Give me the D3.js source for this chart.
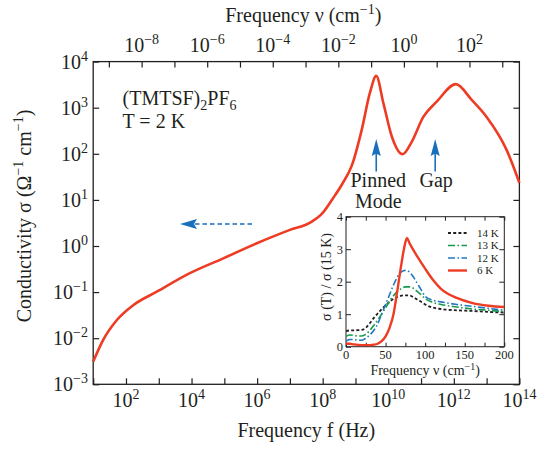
<!DOCTYPE html>
<html><head><meta charset="utf-8">
<script src="https://cdn.jsdelivr.net/npm/d3@7"></script>
<style>
html,body{margin:0;padding:0;background:#fff;}
text{font-family:"Liberation Serif";}
</style></head>
<body>
<svg id="c" width="540" height="449" font-family="Liberation Serif"></svg>
<script>
// ---- main curve (T = 2 K) ----
const freqHz = [10, 20, 52, 166, 870, 8.9e3, 9.3e4, 9.8e5, 1e7, 4.68e7, 1e8, 2.0e8, 3.98e8, 7.76e8, 1.55e9, 2.75e9, 4.3e9, 7.1e9, 1.29e10, 2.75e10, 5.2e10, 1.17e11, 3.0e11, 1.15e12, 3.5e12, 1e13, 4.1e13, 1e14];
const sigma  = [3.1e-3, 9.1e-3, 0.0245, 0.052, 0.102, 0.257, 0.54, 1.15, 2.24, 3.39, 5.25, 10.5, 22.4, 56, 331, 2090, 4900, 1260, 234, 98, 182, 630, 1350, 3240, 1480, 630, 120, 23.4];
const pinnedModeHz = 4.3e9, gapHz = 2.7e11;

// ---- axis ticks ----
const fTicks = [1e1,1e2,1e3,1e4,1e5,1e6,1e7,1e8,1e9,1e10,1e11,1e12,1e13,1e14];
const fLabelExp = [2,4,6,8,10,12,14];
const nuTicks = [1e-9,1e-8,1e-7,1e-6,1e-5,1e-4,1e-3,1e-2,1e-1,1e0,1e1,1e2,1e3];
const nuLabelExp = [-8,-6,-4,-2,0,2];
const sigmaLabelExp = [4,3,2,1,0,-1,-2,-3];

// ---- inset: sigma(T)/sigma(15 K) ----
const nu6K = [0,5,10,20,30,35,40,45,50,55,60,65,70,74,77,80,85,90,100,110,120,140,160,180,200];
const ratio6K = [0.10,0.09,0.07,0.05,0.05,0.06,0.09,0.17,0.32,0.58,1.0,1.75,2.55,3.1,3.35,3.2,2.98,2.78,2.4,2.05,1.78,1.5,1.34,1.26,1.22];
const nuT = [0,5,10,15,20,25,30,35,40,45,50,55,60,65,70,75,80,85,90,95,100,110,120,140,160,180,200];
const ratio12K = [0.17,0.22,0.22,0.2,0.2,0.26,0.36,0.5,0.7,1.0,1.3,1.6,1.9,2.15,2.3,2.35,2.3,2.15,1.95,1.75,1.55,1.43,1.38,1.3,1.24,1.18,1.12];
const ratio13K = [0.32,0.36,0.35,0.33,0.33,0.38,0.5,0.65,0.82,1.0,1.2,1.4,1.57,1.7,1.79,1.84,1.84,1.8,1.7,1.6,1.48,1.36,1.3,1.22,1.16,1.12,1.08];
const ratio14K = [0.48,0.5,0.5,0.51,0.52,0.58,0.72,0.88,1.02,1.15,1.27,1.38,1.47,1.53,1.57,1.58,1.58,1.52,1.45,1.38,1.3,1.2,1.16,1.12,1.1,1.07,1.05];
const legendLabels = ["14 K","13 K","12 K","6 K"];
const insetXTicks = [0,50,100,150,200];
const insetYTicks = [0,1,2,3,4];

const svg = d3.select("#c");
const L = 93.2, R = 519.4, T = 61.6, B = 384.3;
const C_LIGHT = 3e10;
const x = d3.scaleLog().domain([1e1,1e14]).range([L,R]);
const xTop = d3.scaleLog().domain([1e1/C_LIGHT,1e14/C_LIGHT]).range([L,R]);
const y = d3.scaleLog().domain([1e-3,1e4]).range([B,T]);
const RED = "#ee3b24", BLUE = "#1a6fba", GREEN = "#179a4b", BLUE2 = "#1f78c1", INK = "#231f20";

function txt(xp, yp, fs){
  return svg.append("text").attr("x",xp).attr("y",yp).attr("font-size",fs)
    .style("font-family",'"Liberation Serif"').attr("fill",INK);
}
function pow10(sel, base, exp, sfs, dy){
  sel.append("tspan").text(base);
  sel.append("tspan").attr("font-size", sfs).attr("dy", -dy).text(String(exp).replace("-", "\u2212"));
}

// frame
svg.append("rect").attr("x",L).attr("y",T).attr("width",R-L).attr("height",B-T)
  .attr("fill","none").attr("stroke",INK).attr("stroke-width",1.3);

const tk = 6;
const axStyle = g => { g.select(".domain").remove(); g.selectAll("line").attr("stroke",INK).attr("stroke-width",1.2); };
svg.append("g").attr("transform",`translate(0,${B})`).call(d3.axisBottom(x).tickValues(fTicks).tickSize(-tk).tickFormat("")).call(axStyle);
svg.append("g").attr("transform",`translate(0,${T})`).call(d3.axisTop(xTop).tickValues(nuTicks).tickSize(-tk).tickFormat("")).call(axStyle);
const yTicks = sigmaLabelExp.map(e => Math.pow(10, e));
svg.append("g").attr("transform",`translate(${L},0)`).call(d3.axisLeft(y).tickValues(yTicks).tickSize(-tk).tickFormat("")).call(axStyle);
svg.append("g").attr("transform",`translate(${R},0)`).call(d3.axisRight(y).tickValues(yTicks).tickSize(-tk).tickFormat("")).call(axStyle);

// tick labels
fLabelExp.forEach(e => pow10(txt(x(Math.pow(10,e)), 407, 20).attr("text-anchor","middle"), "10", e, 14, 8));
nuLabelExp.forEach(e => pow10(txt(xTop(Math.pow(10,e)), 52, 20).attr("text-anchor","middle"), "10", e, 14, 8));
sigmaLabelExp.forEach(e => pow10(txt(88, y(Math.pow(10,e)) + 7, 20).attr("text-anchor","end"), "10", e, 14, 8));

// axis titles
txt((L+R)/2, 437, 20).attr("text-anchor","middle").text("Frequency f (Hz)");
{
  const t = txt((L+R)/2 - 3, 22, 20).attr("text-anchor","middle");
  t.append("tspan").text("Frequency \u03bd (cm");
  t.append("tspan").attr("font-size",14).attr("dy",-8).text("\u22121");
  t.append("tspan").attr("dy",8).text(")");
}
{
  const t = txt(0, 0, 20).attr("transform","translate(31,216) rotate(-90)").attr("text-anchor","middle");
  t.append("tspan").text("Conductivity \u03c3 (\u03a9");
  t.append("tspan").attr("font-size",14).attr("dy",-8).text("\u22121");
  t.append("tspan").attr("dy",8).text(" cm");
  t.append("tspan").attr("font-size",14).attr("dy",-8).text("\u22121");
  t.append("tspan").attr("dy",8).text(")");
}

// annotation
{
  const t = txt(122.5, 105, 20);
  t.append("tspan").text("(TMTSF)");
  t.append("tspan").attr("font-size",14).attr("dy",5).text("2");
  t.append("tspan").attr("dy",-5).text("PF");
  t.append("tspan").attr("font-size",14).attr("dy",5).text("6");
  txt(122.5, 128, 20).text("T = 2 K");
}

// main curve
const mainData = freqHz.map((f,i)=>[f, sigma[i]]);
svg.append("path").datum(mainData)
  .attr("d", d3.line().x(d=>x(d[0])).y(d=>y(d[1])).curve(d3.curveMonotoneX))
  .attr("fill","none").attr("stroke",RED).attr("stroke-width",2.6).attr("stroke-linejoin","round");

// arrows
svg.append("line").attr("x1",195).attr("x2",253).attr("y1",224).attr("y2",224)
  .attr("stroke",BLUE).attr("stroke-width",1.4).attr("stroke-dasharray","4.5,3");
svg.append("path").attr("d","M180,224 L197,219 L194,224 L197,229 Z").attr("fill",BLUE);
const pinX = x(pinnedModeHz), gapX = x(gapHz);
[pinX, gapX].forEach(ax => {
  svg.append("line").attr("x1",ax).attr("x2",ax).attr("y1",152).attr("y2",171.5).attr("stroke",BLUE).attr("stroke-width",1.6);
  svg.append("path").attr("d",`M${ax},139 L${ax-4.5},156 L${ax},153.5 L${ax+4.5},156 Z`).attr("fill",BLUE);
});
txt(pinX+2, 187, 20).attr("text-anchor","middle").text("Pinned");
txt(pinX+2, 208, 20).attr("text-anchor","middle").text("Mode");
txt(gapX+1, 187, 20).attr("text-anchor","middle").text("Gap");

// ---- inset ----
const iL = 346, iR = 504.3, iT = 216.7, iB = 346.7;
const ix = d3.scaleLinear().domain([0,200]).range([iL,iR]);
const iy = d3.scaleLinear().domain([0,4]).range([iB,iT]);
svg.append("rect").attr("x",iL).attr("y",iT).attr("width",iR-iL).attr("height",iB-iT)
  .attr("fill","#fff").attr("stroke",INK).attr("stroke-width",1);
const ist = g => { g.select(".domain").remove(); g.selectAll("line").attr("stroke",INK).attr("stroke-width",1); };
const ixMinor = d3.range(0,201,25);
svg.append("g").attr("transform",`translate(0,${iB})`).call(d3.axisBottom(ix).tickValues(ixMinor).tickSize(-4).tickFormat("")).call(ist);
svg.append("g").attr("transform",`translate(0,${iT})`).call(d3.axisTop(ix).tickValues(ixMinor).tickSize(-4).tickFormat("")).call(ist);
svg.append("g").attr("transform",`translate(${iL},0)`).call(d3.axisLeft(iy).tickValues(insetYTicks).tickSize(-5).tickFormat("")).call(ist);
svg.append("g").attr("transform",`translate(${iR},0)`).call(d3.axisRight(iy).tickValues(insetYTicks).tickSize(-5).tickFormat("")).call(ist);
insetXTicks.forEach(v => txt(ix(v), 358.5, 12.5).attr("text-anchor","middle").text(v));
insetYTicks.forEach(v => txt(iL-3, iy(v)+4.5, 12.5).attr("text-anchor","end").text(v));
{
  const t = txt((iL+iR)/2, 375, 14).attr("text-anchor","middle");
  t.append("tspan").text("Frequency \u03bd (cm");
  t.append("tspan").attr("font-size",10).attr("dy",-5).text("\u22121");
  t.append("tspan").attr("dy",5).text(")");
}
txt(0,0,14).attr("transform","translate(331,277) rotate(-90)").attr("text-anchor","middle").text("\u03c3 (T) / \u03c3 (15 K)");

const series = [
  {nu: nuT, r: ratio14K, color:INK, dash:"3,2.2", w:1.8},
  {nu: nuT, r: ratio13K, color:GREEN, dash:"7,2.5,1.5,2.5", w:1.6},
  {nu: nuT, r: ratio12K, color:BLUE2, dash:"7,2.5,1.5,2.5", w:1.6},
  {nu: nu6K, r: ratio6K, color:RED, dash:null, w:2.4}
];
const iline = d3.line().x(d=>ix(d[0])).y(d=>iy(d[1])).curve(d3.curveMonotoneX);
svg.append("clipPath").attr("id","ic").append("rect").attr("x",iL).attr("y",iT-10).attr("width",iR-iL).attr("height",iB-iT+10);
series.forEach(s => {
  svg.append("path").datum(s.nu.map((v,i)=>[v,s.r[i]])).attr("d",iline)
    .attr("clip-path","url(#ic)")
    .attr("fill","none").attr("stroke",s.color).attr("stroke-width",s.w).attr("stroke-dasharray",s.dash);
});
// legend
const legY = [233, 245.5, 258, 270.5];
series.forEach((s,i) => {
  svg.append("line").attr("x1",448).attr("x2",467).attr("y1",legY[i]).attr("y2",legY[i])
    .attr("stroke",s.color).attr("stroke-width",s.w).attr("stroke-dasharray",s.dash);
  txt(477, legY[i]+3.8, 11).text(legendLabels[i]);
});
</script>
</body></html>
